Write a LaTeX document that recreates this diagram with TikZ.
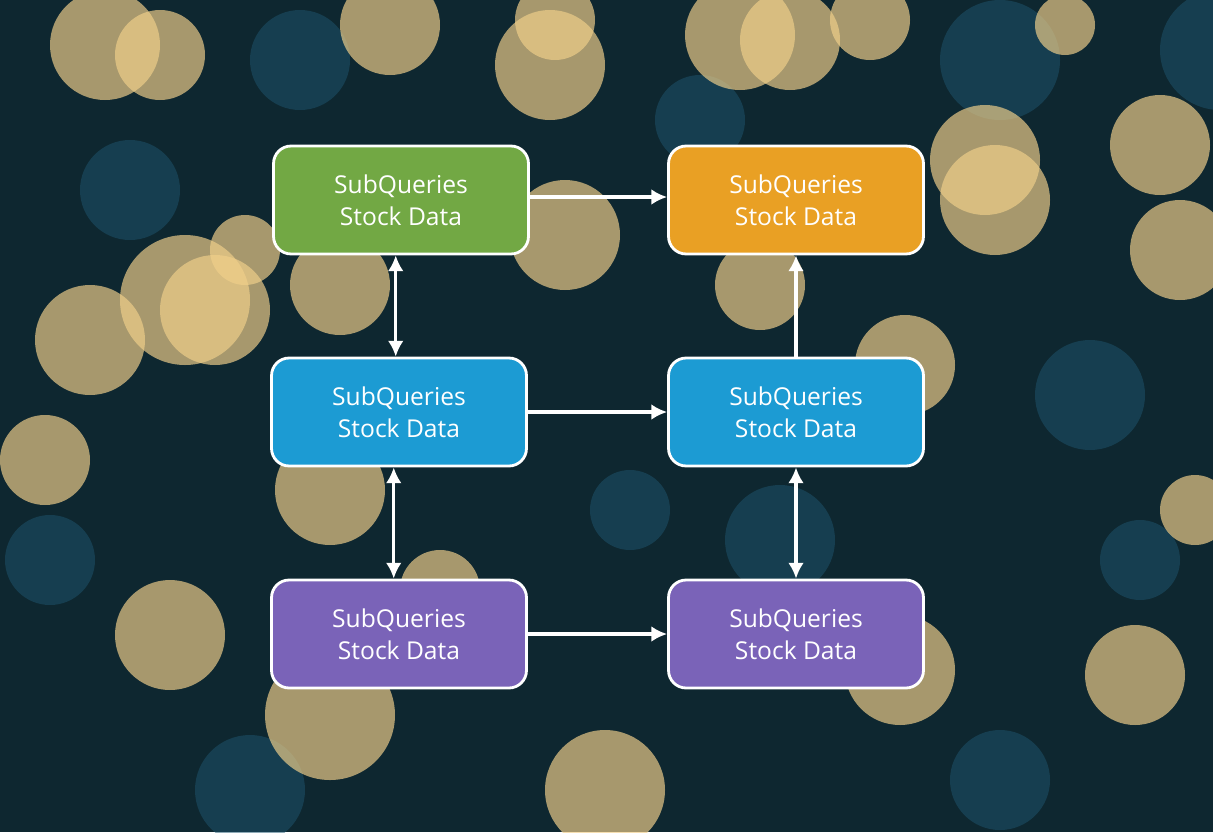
\documentclass[tikz,border=0pt]{standalone}
\usepackage{fontspec}
\setmainfont{Open Sans}
\usetikzlibrary{arrows.meta}
\definecolor{bgc}{HTML}{0E2730}
\definecolor{gold}{HTML}{F0CF8A}
\definecolor{bluish}{HTML}{1E5670}
\definecolor{cgreen}{HTML}{72A844}
\definecolor{corange}{HTML}{E9A024}
\definecolor{cblue}{HTML}{1C9BD3}
\definecolor{cpurple}{HTML}{7A63B8}
\tikzset{
 qbox/.style={draw=white,line width=1.6pt,rounded corners=10pt,minimum width=5.1cm,minimum height=2.16cm,text=white,align=center,font=\fontsize{14}{18}\selectfont},
 conn/.style={draw=white,line width=1.8pt,-{Latex[length=9pt,width=9pt]}},
 dconn/.style={draw=white,line width=1.8pt,{Latex[length=9pt,width=9pt]}-{Latex[length=9pt,width=9pt]}},
 bok/.style={fill=gold,opacity=0.68},
 bokb/.style={fill=bluish,opacity=0.5}
}
\begin{document}
\begin{tikzpicture}[x=0.02cm,y=-0.02cm]
\fill[bgc] (0,0) rectangle (1213,832);
\useasboundingbox (0,0) rectangle (1213,832);
\foreach \x/\y/\r in {1090/395/55,1220/50/60,780/540/55,130/190/50,50/560/45,1140/560/40,630/510/40,1000/60/60,300/60/50,700/120/45,250/790/55,1000/780/50}
  \fill[bokb] (\x,\y) circle (\r);
\foreach \x/\y/\r in {105/45/55,160/55/45,390/25/50,550/65/55,555/20/40,740/35/55,790/40/50,870/20/40,985/160/55,995/200/55,1160/145/50,1180/250/50,245/250/35,340/285/50,185/300/65,215/310/55,90/340/55,565/235/55,760/285/45,905/365/50,45/460/45,330/490/55,170/635/55,330/715/65,605/790/60,1135/675/50,1195/510/35,900/670/55,1065/25/30,440/590/40}
  \fill[bok] (\x,\y) circle (\r);
\node[qbox,fill=cgreen] (g) at (401,200) {SubQueries\\Stock Data};
\node[qbox,fill=corange] (o) at (796,200) {SubQueries\\Stock Data};
\node[qbox,fill=cblue] (bl) at (399,412) {SubQueries\\Stock Data};
\node[qbox,fill=cblue] (br) at (796,412) {SubQueries\\Stock Data};
\node[qbox,fill=cpurple] (pl) at (399,634) {SubQueries\\Stock Data};
\node[qbox,fill=cpurple] (pr) at (796,634) {SubQueries\\Stock Data};
\draw[conn] (g.east) ++(0,-3) coordinate (ga) -- (ga -| o.west);
\draw[conn] (bl) -- (br);
\draw[conn] (pl) -- (pr);
\draw[dconn] ([xshift=-3pt]g.south) -- ([xshift=-3pt]g.south |- bl.north);
\draw[dconn] ([xshift=-3pt]bl.south) -- ([xshift=-3pt]bl.south |- pl.north);
\draw[conn] (br.north) -- (o.south);
\draw[dconn] (br.south) -- (pr.north);
\end{tikzpicture}
\end{document}
